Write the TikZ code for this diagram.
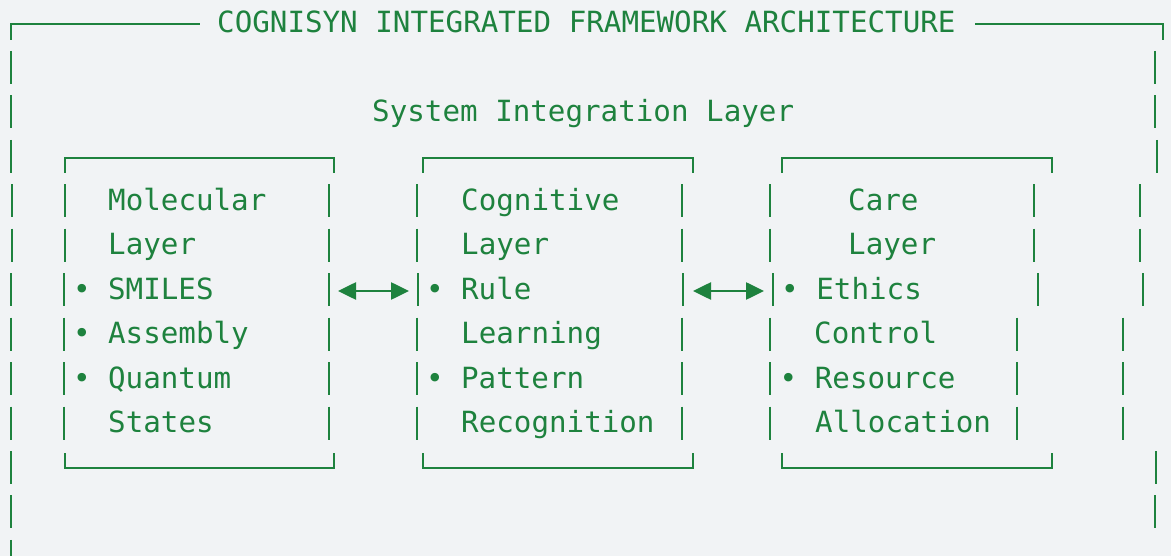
\documentclass[tikz,border=0pt]{standalone}
\usepackage{fontspec}
\setmonofont{DejaVu Sans Mono}
\usepackage{tikz}
\usetikzlibrary{arrows.meta,positioning}
\definecolor{ink}{RGB}{30,130,62}
\definecolor{paper}{RGB}{241,243,245}

\begin{document}
\begin{tikzpicture}[x=1pt,y=-1pt,font=\ttfamily\fontsize{29.2}{35}\selectfont,
  txt/.style={anchor=base west,inner sep=0pt,text=ink},
  rule/.style={draw=ink,line width=2.3pt},
  link/.style={{Triangle[length=18pt,width=17pt]}-{Triangle[length=18pt,width=17pt]},draw=ink,fill=ink,line width=2.6pt}]
  \fill[paper] (0,0) rectangle (1171,556);
  \useasboundingbox (0,0) rectangle (1171,556);

  % outer frame, title cut into the top line
  \draw[rule] (11,40) -- (11,24) -- (200,24);
  \draw[rule] (975,24) -- (1163,24) -- (1163,40);
  \node[txt] (title) at (217,32.5) {COGNISYN INTEGRATED FRAMEWORK ARCHITECTURE};
  \node[txt] (sys) at (372,121.4) {System Integration Layer};

  % vertical bars, one per text row
  \foreach \r/\xs in {1/{11,1155},2/{11,1155},3/{11,1157},
      4/{12,65,329,417,682,770,1034,1140},5/{12,65,329,417,682,770,1034,1140},
      6/{11,64,329,418,683,773,1038,1143},7/{11,64,329,417,682,770,1017,1123},
      8/{11,64,329,417,682,770,1017,1123},9/{11,64,329,417,682,770,1017,1123},
      10/{11,1156},11/{11,1155},12/{11}}
    \foreach \x in \xs
      \draw[rule] (\x,{22.5+44.45*\r-16}) -- ++(0,33);

  % box tops and bottoms
  \foreach \l/\r in {65/334,423/693,782/1052}{
    \draw[rule] (\l,173) -- (\l,158) -- (\r,158) -- (\r,173);
    \draw[rule] (\l,453) -- (\l,468) -- (\r,468) -- (\r,453);
  }

  % molecular layer
  \node[txt] (mol1) at (108,210.3) {Molecular};
  \node[txt] (mol2) at (108,254.8) {Layer};
  \node[txt] (mol3) at (72.8,299.2) {• SMILES};
  \node[txt] (mol4) at (72.8,343.7) {• Assembly};
  \node[txt] (mol5) at (72.8,388.1) {• Quantum};
  \node[txt] (mol6) at (108,432.6) {States};

  % cognitive layer
  \node[txt] (cog1) at (461,210.3) {Cognitive};
  \node[txt] (cog2) at (461,254.8) {Layer};
  \node[txt] (cog3) at (425.8,299.2) {• Rule};
  \node[txt] (cog4) at (461,343.7) {Learning};
  \node[txt] (cog5) at (425.8,388.1) {• Pattern};
  \node[txt] (cog6) at (461,432.6) {Recognition};

  % care layer
  \node[txt] (care1) at (848,210.3) {Care};
  \node[txt] (care2) at (848,254.8) {Layer};
  \node[txt] (care3) at (781,299.2) {• Ethics};
  \node[txt] (care4) at (814,343.7) {Control};
  \node[txt] (care5) at (779.5,388.1) {• Resource};
  \node[txt] (care6) at (815,432.6) {Allocation};

  % links between the layers
  \coordinate (molR) at (338,291);
  \coordinate (cogL) at (409,291);
  \coordinate (cogR) at (693,291);
  \coordinate (careL) at (764,291);
  \draw[link] (molR) -- (cogL);
  \draw[link] (cogR) -- (careL);
\end{tikzpicture}
\end{document}
